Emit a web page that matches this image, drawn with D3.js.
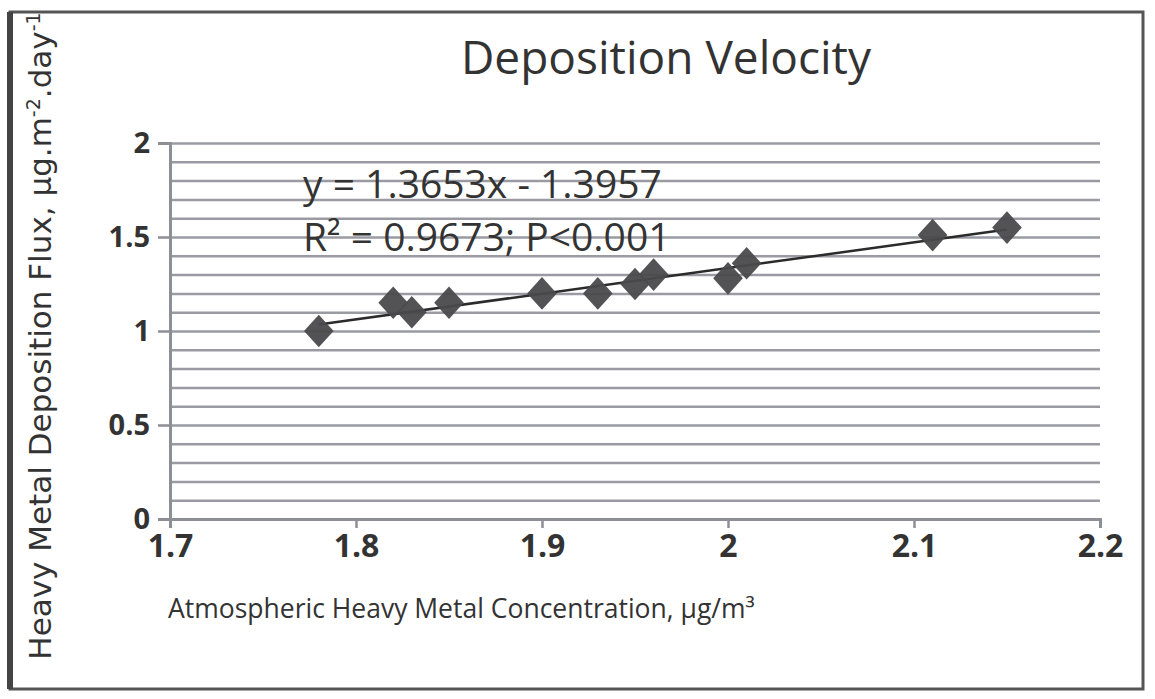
<!DOCTYPE html>
<html>
<head>
<meta charset="utf-8">
<script src="https://cdn.jsdelivr.net/npm/d3@7"></script>
<style>
  body { margin: 0; background: #fff; }
  text { fill: #333; }
</style>
</head>
<body>
<div id="chart"></div>
<script>
// values
var concValues = [1.78, 1.82, 1.83, 1.85, 1.90, 1.93, 1.95, 1.96, 2.00, 2.01, 2.11, 2.15];
var fluxValues = [1.00, 1.15, 1.10, 1.15, 1.20, 1.20, 1.25, 1.30, 1.28, 1.36, 1.51, 1.55];
var xTickValues = [1.7, 1.8, 1.9, 2.0, 2.1, 2.2];
var yTickValues = [0, 0.5, 1, 1.5, 2];
var yGridValues = d3.range(0, 21).map(function (i) { return i / 10; });
var slope = 1.3653, intercept = -1.3957;
var eqLines = ["y = 1.3653x - 1.3957", "R\u00b2 = 0.9673; P<0.001"];

var svgWidth = 1155, svgHeight = 699;
var svg = d3.select("#chart").append("svg")
    .attr("width", svgWidth)
    .attr("height", svgHeight);

// frame
svg.append("rect")
    .attr("x", 10).attr("y", 12)
    .attr("width", 1133).attr("height", 677)
    .attr("fill", "none")
    .attr("stroke", "#555")
    .attr("stroke-width", 3);
svg.append("line")
    .attr("x1", 10).attr("x2", 10).attr("y1", 12).attr("y2", 689)
    .attr("stroke", "#444").attr("stroke-width", 6);

var x = d3.scaleLinear().domain([1.7, 2.2]).range([170, 1100]);
var y = d3.scaleLinear().domain([0, 2]).range([519, 143]);

var trimZero = function (d) { return String(+d.toFixed(1)); };

// horizontal gridlines every 0.1
svg.append("g")
    .attr("transform", "translate(170,0)")
    .call(d3.axisLeft(y).tickValues(yGridValues).tickSize(-(1100 - 170)).tickFormat(""))
    .call(function (g) {
        g.select(".domain").remove();
        g.selectAll(".tick line").attr("stroke", "#9a9aa3").attr("stroke-width", 2.5);
    });

// y axis with major ticks
svg.append("g")
    .attr("transform", "translate(170,0)")
    .call(d3.axisLeft(y).tickValues(yTickValues).tickSize(12).tickPadding(8).tickFormat(trimZero))
    .call(function (g) {
        g.select(".domain").attr("stroke", "#8e8e96").attr("stroke-width", 3);
        g.selectAll(".tick line").attr("stroke", "#8e8e96").attr("stroke-width", 2.5);
        g.selectAll(".tick text")
            .attr("font-family", "'Open Sans', sans-serif")
            .attr("font-weight", "bold")
            .attr("font-size", 29)
            .attr("fill", "#333");
    });

// x axis
svg.append("g")
    .attr("transform", "translate(0,519)")
    .call(d3.axisBottom(x).tickValues(xTickValues).tickSize(9).tickPadding(6).tickFormat(trimZero))
    .call(function (g) {
        g.select(".domain").attr("stroke", "#8e8e96").attr("stroke-width", 3);
        g.selectAll(".tick line").attr("stroke", "#8e8e96").attr("stroke-width", 2.5);
        g.selectAll(".tick text")
            .attr("font-family", "'Open Sans', sans-serif")
            .attr("font-weight", "bold")
            .attr("font-size", 32)
            .attr("fill", "#333");
    });

// trend line
var xMin = d3.min(concValues), xMax = d3.max(concValues);
var line = d3.line()
    .x(function (d) { return x(d); })
    .y(function (d) { return y(slope * d + intercept); });
svg.append("path")
    .attr("d", line([xMin, xMax]))
    .attr("fill", "none")
    .attr("stroke", "#2b2b2b")
    .attr("stroke-width", 2.5);

// diamonds
var diamond = d3.symbol().type(d3.symbolDiamond2).size(560);
svg.append("g").selectAll("path")
    .data(concValues)
    .enter().append("path")
    .attr("d", diamond)
    .attr("transform", function (d, i) {
        return "translate(" + x(d) + "," + y(fluxValues[i]) + ") scale(1,1.1)";
    })
    .attr("fill", "#4a4a4c")
    .attr("fill-opacity", 0.95);

// title
svg.append("text")
    .attr("x", 666).attr("y", 74)
    .attr("text-anchor", "middle")
    .attr("font-family", "'Open Sans', sans-serif")
    .attr("font-size", 46)
    .text("Deposition Velocity");

// regression equation
svg.append("g").selectAll("text")
    .data(eqLines)
    .enter().append("text")
    .attr("x", 303)
    .attr("y", function (d, i) { return 198 + i * 53; })
    .attr("font-family", "'Open Sans', sans-serif")
    .attr("font-size", 39)
    .text(function (d) { return d; });

// x axis title
svg.append("text")
    .attr("x", 168).attr("y", 618)
    .attr("font-family", "'Open Sans', sans-serif")
    .attr("font-size", 26.5)
    .text("Atmospheric Heavy Metal Concentration, \u00b5g/m\u00b3");

// y axis title
var yTitle = svg.append("text")
    .attr("transform", "translate(51,336) rotate(-90)")
    .attr("text-anchor", "middle")
    .attr("font-family", "'DejaVu Sans', sans-serif")
    .attr("font-size", 31);
yTitle.append("tspan").text("Heavy Metal Deposition Flux, \u00b5g.m");
yTitle.append("tspan").attr("dy", -11).attr("font-size", 19).text("-2");
yTitle.append("tspan").attr("dy", 11).text(".day");
yTitle.append("tspan").attr("dy", -11).attr("font-size", 19).text("-1");
</script>
</body>
</html>
